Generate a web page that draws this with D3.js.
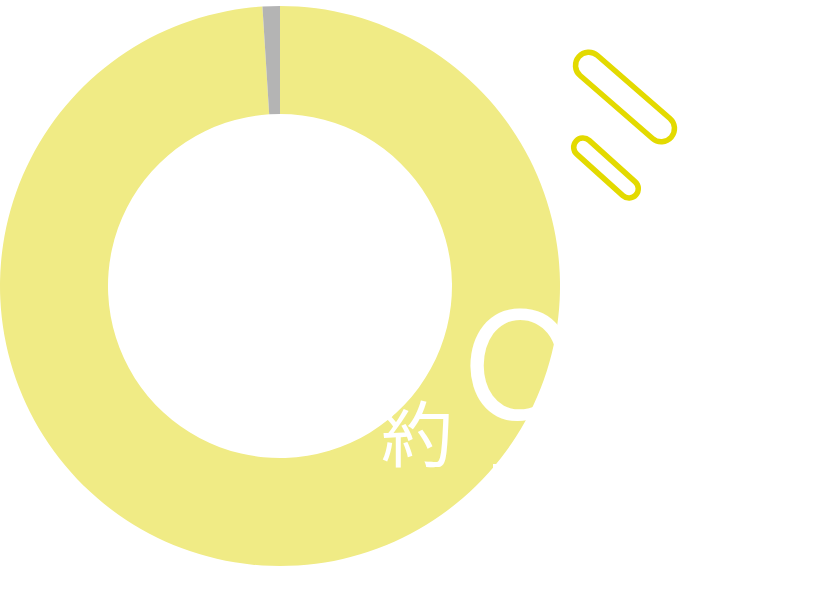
<!DOCTYPE html>
<html>
<head>
<meta charset="utf-8">
<script src="https://cdn.jsdelivr.net/npm/d3@7"></script>
<style>
html,body{margin:0;padding:0;background:#fff;}
svg{display:block;}
</style>
</head>
<body>
<svg id="chart" width="840" height="600"></svg>
<script>
// data
const categories = ["該当", "非該当"];
const values = [99, 1];
const colors = ["#F0EB85", "#B4B4B4"];
const prefixLabel = "約";
const bigLabel = "99";
const unitLabel = "%";

const svg = d3.select("#chart");
const cx = 280, cy = 286, outerR = 280, innerR = 172;

const pie = d3.pie().sort(null).value(d => d).startAngle(0).endAngle(2 * Math.PI);
const arc = d3.arc().innerRadius(innerR).outerRadius(outerR);

const color = d3.scaleOrdinal().domain(categories).range(colors);

const g = svg.append("g").attr("transform", `translate(${cx},${cy})`);
g.selectAll("path")
  .data(pie(values))
  .join("path")
  .attr("d", arc)
  .attr("fill", (d, i) => color(categories[i]));

// decorative capsules
const capsules = [
  {x: 625, y: 97, len: 96, thick: 32, angle: 41},
  {x: 606, y: 168, len: 62, thick: 24, angle: 42}
];
const sw = 5.5;
svg.selectAll("g.cap")
  .data(capsules)
  .join("g")
  .attr("class", "cap")
  .attr("transform", d => `translate(${d.x},${d.y}) rotate(${d.angle})`)
  .append("rect")
  .attr("x", d => -(d.len + d.thick - sw) / 2)
  .attr("y", d => -(d.thick - sw) / 2)
  .attr("width", d => d.len + d.thick - sw)
  .attr("height", d => d.thick - sw)
  .attr("rx", d => (d.thick - sw) / 2)
  .attr("fill", "none")
  .attr("stroke", "#E3DA00")
  .attr("stroke-width", sw);

// labels
svg.append("text")
  .attr("x", 381)
  .attr("y", 461)
  .attr("font-family", "'Noto Sans CJK JP', sans-serif")
  .attr("font-weight", 400)
  .attr("font-size", 72)
  .attr("fill", "#fff")
  .text(prefixLabel);

const big = svg.append("text")
  .attr("x", 459)
  .attr("y", 475)
  .attr("font-family", "Roboto, sans-serif")
  .attr("font-weight", 300)
  .attr("fill", "#fff");
big.append("tspan").attr("font-size", 230).text(bigLabel);
big.append("tspan").attr("font-size", 90).text(unitLabel);
</script>
</body>
</html>
